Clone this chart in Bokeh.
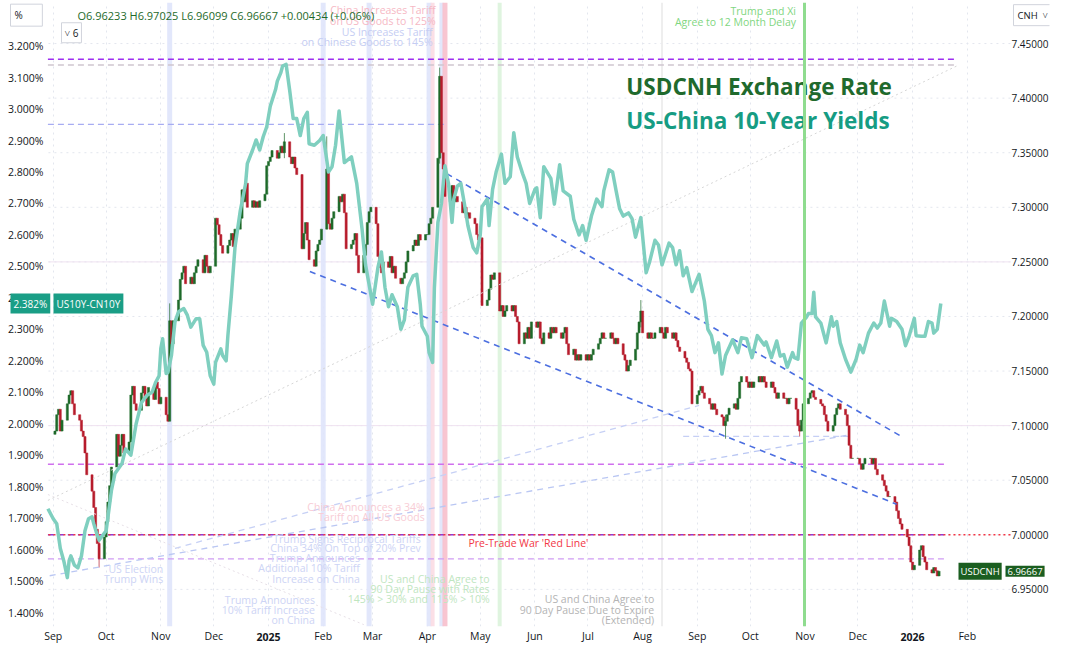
import pandas as pd
from bokeh.plotting import figure
from bokeh.models import (Range1d, LinearAxis, DatetimeAxis, FixedTicker, PrintfTickFormatter,
                          Span, Label, ColumnDataSource)
from bokeh.core.properties import value
from bokeh.embed import file_html
from bokeh.resources import INLINE

FONT = "Open Sans"
AXC = "#131722"

# ---------------- USDCNH daily closes (weekdays) ----------------
cnh_first_open = 7.092
cnh_2024_09 = [7.095, 7.110, 7.115, 7.095, 7.105, 7.120, 7.128, 7.132, 7.120, 7.110, 7.105,
               7.095, 7.090, 7.075, 7.055, 7.040, 7.025, 7.005, 6.992, 6.978, 6.998]
cnh_2024_10 = [7.012, 7.030, 7.045, 7.062, 7.092, 7.072, 7.082, 7.092, 7.075, 7.085, 7.128, 7.136,
               7.120, 7.114, 7.130, 7.136, 7.125, 7.118, 7.135, 7.124, 7.140, 7.134, 7.120]
cnh_2024_11 = [7.126, 7.110, 7.104, 7.196, 7.175, 7.196, 7.215, 7.234, 7.240, 7.246, 7.230,
               7.236, 7.230, 7.240, 7.246, 7.252, 7.240, 7.256, 7.246, 7.240, 7.246]
cnh_2024_12 = [7.290, 7.284, 7.275, 7.265, 7.258, 7.265, 7.270, 7.276, 7.264, 7.280, 7.290,
               7.316, 7.305, 7.322, 7.300, 7.306, 7.300, 7.305, 7.300, 7.306, 7.312, 7.338]
cnh_2025_01 = [7.342, 7.346, 7.352, 7.345, 7.350, 7.356, 7.350, 7.360, 7.346, 7.340, 7.346, 7.336,
               7.330, 7.262, 7.276, 7.286, 7.270, 7.252, 7.246, 7.260, 7.266, 7.270, 7.280]
cnh_2025_02 = [7.335, 7.285, 7.280, 7.290, 7.296, 7.310, 7.305, 7.312, 7.295, 7.262,
               7.266, 7.270, 7.276, 7.256, 7.240, 7.256, 7.266, 7.286, 7.296, 7.300]
cnh_2025_03 = [7.285, 7.255, 7.245, 7.240, 7.250, 7.245, 7.255, 7.240, 7.246, 7.235, 7.230,
               7.235, 7.240, 7.250, 7.260, 7.265, 7.270, 7.265, 7.275, 7.270, 7.275]
cnh_2025_04 = [7.275, 7.285, 7.290, 7.300, 7.345, 7.420, 7.350, 7.335, 7.310, 7.305, 7.320,
               7.305, 7.310, 7.305, 7.295, 7.300, 7.290, 7.295, 7.290, 7.285, 7.275, 7.270]
cnh_2025_05 = [7.272, 7.210, 7.215, 7.225, 7.238, 7.234, 7.240, 7.205, 7.210, 7.200, 7.205,
               7.210, 7.205, 7.210, 7.200, 7.195, 7.175, 7.185, 7.180, 7.190, 7.180, 7.195]
cnh_2025_06 = [7.190, 7.195, 7.180, 7.175, 7.185, 7.180, 7.190, 7.185, 7.190, 7.185, 7.180,
               7.185, 7.190, 7.175, 7.165, 7.170, 7.160, 7.165, 7.160, 7.165, 7.160]
cnh_2025_07 = [7.165, 7.160, 7.165, 7.170, 7.175, 7.180, 7.185, 7.180, 7.180, 7.185, 7.180, 7.175,
               7.180, 7.175, 7.165, 7.160, 7.150, 7.155, 7.160, 7.170, 7.185, 7.195, 7.205]
cnh_2025_08 = [7.185, 7.180, 7.185, 7.180, 7.180, 7.185, 7.190, 7.185, 7.180, 7.190, 7.185,
               7.180, 7.185, 7.178, 7.172, 7.168, 7.162, 7.158, 7.152, 7.150, 7.120]
cnh_2025_09 = [7.128, 7.132, 7.136, 7.130, 7.125, 7.120, 7.115, 7.120, 7.115, 7.110, 7.108,
               7.100, 7.104, 7.110, 7.116, 7.120, 7.115, 7.125, 7.140, 7.145, 7.140, 7.135]
cnh_2025_10 = [7.140, 7.135, 7.140, 7.145, 7.140, 7.145, 7.140, 7.135, 7.140, 7.135, 7.130, 7.125,
               7.130, 7.125, 7.125, 7.120, 7.125, 7.125, 7.115, 7.100, 7.095, 7.105, 7.120]
cnh_2025_11 = [7.125, 7.130, 7.132, 7.126, 7.124, 7.120, 7.118, 7.110, 7.104, 7.095,
               7.100, 7.110, 7.116, 7.120, 7.115, 7.110, 7.100, 7.082, 7.070, 7.070]
cnh_2025_12 = [7.070, 7.065, 7.060, 7.065, 7.070, 7.070, 7.065, 7.070, 7.060, 7.055, 7.050, 7.045,
               7.040, 7.035, 7.035, 7.030, 7.022, 7.015, 7.010, 7.005, 6.998, 6.990, 6.975]
cnh_2026_01 = [6.968, 6.972, 6.986, 6.990, 6.980, 6.975, 6.968, 6.965, 6.970, 6.967, 6.96233, 6.96667]
cnh_last_high = 6.97025
cnh_last_low = 6.96099

# notable wicks (low, high)
wick_dates = ["2024-09-27", "2024-11-06", "2025-01-10", "2025-02-03", "2025-04-08",
              "2025-07-31", "2025-09-17", "2025-10-29"]
wick_lo = [6.970, 7.105, 7.345, 7.280, 7.340, 7.190, 7.088, 7.090]
wick_hi = [6.995, 7.212, 7.368, 7.365, 7.428, 7.215, 7.110, 7.105]

# ---------------- US10Y-CN10Y spread (%) ----------------
spread_dates = [
    "2024-08-29", "2024-09-01", "2024-09-03", "2024-09-05", "2024-09-07", "2024-09-09", "2024-09-10",
    "2024-09-11", "2024-09-13", "2024-09-15", "2024-09-17", "2024-09-19", "2024-09-21", "2024-09-23",
    "2024-09-24", "2024-09-26", "2024-09-27", "2024-10-01", "2024-10-04", "2024-10-06", "2024-10-10",
    "2024-10-12", "2024-10-15", "2024-10-18", "2024-10-21", "2024-10-24", "2024-10-27", "2024-10-29",
    "2024-10-31", "2024-11-01", "2024-11-02", "2024-11-04", "2024-11-05", "2024-11-07", "2024-11-09",
    "2024-11-11", "2024-11-14", "2024-11-16", "2024-11-18", "2024-11-21", "2024-11-23", "2024-11-25",
    "2024-11-27", "2024-11-29", "2024-12-01", "2024-12-02", "2024-12-05", "2024-12-06", "2024-12-08",
    "2024-12-09", "2024-12-11", "2024-12-13", "2024-12-16", "2024-12-19", "2024-12-20", "2024-12-23",
    "2024-12-25", "2024-12-27", "2024-12-29", "2024-12-31", "2025-01-02", "2025-01-05", "2025-01-06",
    "2025-01-08", "2025-01-09", "2025-01-11", "2025-01-13", "2025-01-15", "2025-01-17", "2025-01-19",
    "2025-01-21", "2025-01-23", "2025-01-24", "2025-01-27", "2025-01-30", "2025-02-01", "2025-02-04",
    "2025-02-06", "2025-02-08", "2025-02-10", "2025-02-13", "2025-02-17", "2025-02-20", "2025-02-23",
    "2025-02-25", "2025-02-27", "2025-03-01", "2025-03-04", "2025-03-06", "2025-03-08", "2025-03-10",
    "2025-03-12", "2025-03-15", "2025-03-17", "2025-03-19", "2025-03-21", "2025-03-24", "2025-03-26",
    "2025-03-28", "2025-03-29", "2025-04-01", "2025-04-02", "2025-04-04", "2025-04-05", "2025-04-07",
    "2025-04-09", "2025-04-11", "2025-04-13", "2025-04-15", "2025-04-16", "2025-04-18", "2025-04-20",
    "2025-04-22", "2025-04-24", "2025-04-27", "2025-04-29", "2025-05-01", "2025-05-02", "2025-05-05",
    "2025-05-06", "2025-05-08", "2025-05-10", "2025-05-13", "2025-05-15", "2025-05-18", "2025-05-20",
    "2025-05-22", "2025-05-25", "2025-05-27", "2025-05-29", "2025-06-01", "2025-06-02", "2025-06-04",
    "2025-06-06", "2025-06-10", "2025-06-12", "2025-06-15", "2025-06-17", "2025-06-21", "2025-06-23",
    "2025-06-26", "2025-06-28", "2025-06-30", "2025-07-03", "2025-07-06", "2025-07-09", "2025-07-10",
    "2025-07-13", "2025-07-15", "2025-07-17", "2025-07-19", "2025-07-21", "2025-07-24", "2025-07-26",
    "2025-07-28", "2025-07-31", "2025-08-03", "2025-08-05", "2025-08-08", "2025-08-10", "2025-08-12",
    "2025-08-16", "2025-08-18", "2025-08-20", "2025-08-22", "2025-08-24", "2025-08-26", "2025-08-29",
    "2025-09-02", "2025-09-05", "2025-09-07", "2025-09-09", "2025-09-11", "2025-09-13", "2025-09-15",
    "2025-09-17", "2025-09-21", "2025-09-24", "2025-09-26", "2025-09-29", "2025-10-02", "2025-10-05",
    "2025-10-09", "2025-10-10", "2025-10-13", "2025-10-16", "2025-10-18", "2025-10-20", "2025-10-22",
    "2025-10-25", "2025-10-26", "2025-10-28", "2025-10-30", "2025-11-02", "2025-11-03", "2025-11-05",
    "2025-11-06", "2025-11-07", "2025-11-10", "2025-11-13", "2025-11-16", "2025-11-17", "2025-11-19",
    "2025-11-21", "2025-11-24", "2025-11-27", "2025-11-30", "2025-12-02", "2025-12-04", "2025-12-07",
    "2025-12-10", "2025-12-12", "2025-12-14", "2025-12-16", "2025-12-19", "2025-12-20", "2025-12-23",
    "2025-12-26", "2025-12-28", "2025-12-30", "2026-01-02", "2026-01-03", "2026-01-06", "2026-01-08",
    "2026-01-10", "2026-01-12", "2026-01-13", "2026-01-15", "2026-01-17"]
spread_vals = [
    1.730, 1.698, 1.682, 1.604, 1.564, 1.511, 1.564, 1.580, 1.551, 1.542, 1.580, 1.660, 1.698, 1.704,
    1.682, 1.645, 1.630, 1.660, 1.788, 1.842, 1.874, 1.920, 1.900, 2.000, 2.067, 2.090, 2.100, 2.131,
    2.152, 2.240, 2.270, 2.160, 2.163, 2.217, 2.324, 2.356, 2.366, 2.345, 2.307, 2.334, 2.334, 2.249,
    2.227, 2.152, 2.126, 2.195, 2.238, 2.217, 2.200, 2.281, 2.410, 2.560, 2.677, 2.762, 2.827, 2.870,
    2.902, 2.870, 2.912, 2.944, 3.009, 3.062, 3.089, 3.116, 3.137, 3.142, 3.060, 2.970, 2.970, 2.916,
    2.970, 2.990, 2.890, 2.885, 2.900, 2.916, 2.800, 2.817, 2.885, 2.994, 2.830, 2.848, 2.764, 2.620,
    2.505, 2.443, 2.380, 2.496, 2.546, 2.434, 2.372, 2.410, 2.372, 2.300, 2.330, 2.434, 2.470, 2.475,
    2.380, 2.310, 2.278, 2.226, 2.195, 2.430, 2.640, 2.700, 2.820, 2.764, 2.640, 2.714, 2.755, 2.764,
    2.700, 2.630, 2.560, 2.543, 2.600, 2.690, 2.714, 2.630, 2.745, 2.800, 2.857, 2.764, 2.785, 2.925,
    2.848, 2.795, 2.764, 2.700, 2.745, 2.750, 2.655, 2.817, 2.780, 2.698, 2.823, 2.740, 2.723, 2.650,
    2.600, 2.630, 2.583, 2.660, 2.714, 2.690, 2.740, 2.807, 2.800, 2.740, 2.683, 2.660, 2.670, 2.652,
    2.593, 2.655, 2.480, 2.515, 2.583, 2.568, 2.505, 2.574, 2.560, 2.505, 2.550, 2.470, 2.496, 2.420,
    2.475, 2.390, 2.300, 2.280, 2.226, 2.257, 2.158, 2.217, 2.267, 2.226, 2.273, 2.270, 2.210, 2.280,
    2.250, 2.260, 2.210, 2.263, 2.215, 2.220, 2.180, 2.226, 2.210, 2.205, 2.320, 2.340, 2.350, 2.350,
    2.418, 2.340, 2.320, 2.257, 2.340, 2.310, 2.325, 2.257, 2.205, 2.164, 2.205, 2.250, 2.226, 2.288,
    2.320, 2.304, 2.320, 2.390, 2.310, 2.335, 2.325, 2.300, 2.248, 2.278, 2.335, 2.280, 2.278, 2.278,
    2.325, 2.320, 2.288, 2.300, 2.382]

# ---------------- axes ----------------
month_ticks = ["2024-09-01", "2024-10-01", "2024-11-01", "2024-12-01", "2025-01-01", "2025-02-01",
               "2025-03-01", "2025-04-01", "2025-05-01", "2025-06-01", "2025-07-01", "2025-08-01",
               "2025-09-01", "2025-10-01", "2025-11-01", "2025-12-01", "2026-01-01", "2026-02-01"]
month_labels = ["Sep", "Oct", "Nov", "Dec", "2025", "Feb", "Mar", "Apr", "May", "Jun", "Jul", "Aug",
                "Sep", "Oct", "Nov", "Dec", "2026", "Feb"]
pct_ticks = [1.4, 1.5, 1.6, 1.7, 1.8, 1.9, 2.0, 2.1, 2.2, 2.3, 2.4, 2.5, 2.6, 2.7, 2.8, 2.9, 3.0, 3.1, 3.2]
cnh_ticks = [6.95, 7.00, 7.05, 7.10, 7.15, 7.20, 7.25, 7.30, 7.35, 7.40, 7.45]

# ---------------- drawings on the chart ----------------
events = [("2024-11-06", "#dfe4fb", 5), ("2025-02-01", "#dfe4fb", 5), ("2025-02-27", "#dfe4fb", 5),
          ("2025-04-02", "#dfe4fb", 5), ("2025-04-04", "#fbdbe3", 4), ("2025-04-09", "#dfe4fb", 4),
          ("2025-04-11", "#f7bfcc", 5), ("2025-05-12", "#dcf3dc", 4), ("2025-08-12", "#ececec", 2)]
deal_date = "2025-10-31 18:00"

hlines = [(7.4357, "2024-08-29", "2026-01-26", "#9d2ff0", 1.5),
          (7.4303, "2024-08-29", "2026-01-26", "#cfc6cf", 1.5),
          (7.3759, "2024-08-29", "2025-04-12", "#a7acf2", 1.3),
          (7.0647, "2024-08-29", "2026-01-20", "#d070ee", 1.5),
          (7.0000, "2024-08-29", "2026-01-20", "#8e3ad6", 1.5),
          (6.9780, "2024-08-29", "2026-01-20", "#cf9cf4", 1.3),
          (7.0902, "2025-08-24", "2025-11-27", "#c5cff5", 1.3)]

diag = [("2025-01-24 11:00", 7.2412, "2025-12-23", 7.0280, "#4c6fe0", "6 5", 1.6),
        ("2025-04-12", 7.3308, "2025-12-27", 7.0889, "#4c6fe0", "6 5", 1.6),
        ("2024-08-30", 6.9625, "2025-11-26 12:00", 7.0916, "#bac7f3", "6 5", 1.3),
        ("2024-11-09", 6.9876, "2025-09-02", 7.1185, "#c6d0f5", "6 5", 1.3),
        ("2024-08-29", 7.0315, "2026-01-26", 7.4294, "#d6d6d6", "2 3", 1.0),
        ("2024-08-29", 7.0369, "2025-02-24", 6.9177, "#e6dfe6", "2 3", 1.0)]

notes = [("China Increases Tariff", "2025-04-05 17:00", 7.4805, "#f6b8c4"),
         ("on US Goods to 125%", "2025-04-05 17:00", 7.4706, "#f6b8c4"),
         ("US Increases Tariff", "2025-04-04", 7.4608, "#c5cdf3"),
         ("on Chinese Goods to 145%", "2025-04-04", 7.4513, "#c5cdf3"),
         ("Trump and Xi", "2025-10-26 22:00", 7.4796, "#7fd67f"),
         ("Agree to 12 Month Delay", "2025-10-26 22:00", 7.4697, "#7fd67f"),
         ("China Announces a 34%", "2025-03-30 12:00", 7.0253, "#f8ccd5"),
         ("Tariff on All US Goods", "2025-03-30 12:00", 7.0159, "#f8ccd5"),
         ("Trump Signs Reciprocal Tariffs", "2025-03-28 07:00", 6.9966, "#cdd4f5"),
         ("China 34% On Top of 20% Prev", "2025-03-28 07:00", 6.9876, "#cdd4f5"),
         ("Trump Announces", "2025-02-21 19:00", 6.9787, "#cdd4f5"),
         ("Additional 10% Tariff", "2025-02-21 19:00", 6.9692, "#cdd4f5"),
         ("Increase on China", "2025-02-21 19:00", 6.9599, "#cdd4f5"),
         ("US Election", "2024-11-02 07:00", 6.9688, "#cdd4f5"),
         ("Trump Wins", "2024-11-02 07:00", 6.9594, "#cdd4f5"),
         ("Trump Announces", "2025-01-27 07:00", 6.9405, "#cdd4f5"),
         ("10% Tariff Increase", "2025-01-27 07:00", 6.9314, "#cdd4f5"),
         ("on China", "2025-01-27 07:00", 6.9222, "#cdd4f5"),
         ("US and China Agree to", "2025-05-06 07:00", 6.9599, "#bfe6bf"),
         ("90 Day Pause with Rates", "2025-05-06 07:00", 6.9505, "#bfe6bf"),
         ("145% > 30% and 115% > 10%", "2025-05-06 07:00", 6.9410, "#bfe6bf"),
         ("US and China Agree to", "2025-08-07 14:00", 6.9410, "#b4b4b4"),
         ("90 Day Pause Due to Expire", "2025-08-07 14:00", 6.9314, "#b4b4b4"),
         ("(Extended)", "2025-08-07 14:00", 6.9222, "#b4b4b4"),
         ("Pre-Trade War 'Red Line'", "2025-07-01 07:00", 6.9921, "#f23645")]


def ms(s):
    return pd.Timestamp(s).value / 1e6


# ---------------- build candles ----------------
months = [("2024-09", cnh_2024_09), ("2024-10", cnh_2024_10), ("2024-11", cnh_2024_11),
          ("2024-12", cnh_2024_12), ("2025-01", cnh_2025_01), ("2025-02", cnh_2025_02),
          ("2025-03", cnh_2025_03), ("2025-04", cnh_2025_04), ("2025-05", cnh_2025_05),
          ("2025-06", cnh_2025_06), ("2025-07", cnh_2025_07), ("2025-08", cnh_2025_08),
          ("2025-09", cnh_2025_09), ("2025-10", cnh_2025_10), ("2025-11", cnh_2025_11),
          ("2025-12", cnh_2025_12), ("2026-01", cnh_2026_01)]
dates, closes = [], []
for ym, vals in months:
    start = pd.Timestamp(ym + "-01")
    days = pd.bdate_range(start, start + pd.offsets.MonthEnd(0))
    n = min(len(days), len(vals))
    dates += list(days[:n])
    closes += vals[:n]
opens = [cnh_first_open] + closes[:-1]
UP, DN = "#1e6a2a", "#b71c2c"
cols = [UP if c >= o else DN for o, c in zip(opens, closes)]
csrc = ColumnDataSource(dict(x=pd.DatetimeIndex(dates).values,
                             top=[max(o, c) for o, c in zip(opens, closes)],
                             bottom=[min(o, c) for o, c in zip(opens, closes)],
                             color=cols))
dir_by_date = {pd.Timestamp(d).normalize(): col for d, col in zip(dates, cols)}

# ---------------- figure ----------------
# the frame spans the full canvas width; the price scales are drawn inside it
X0, X1 = ms("2024-08-02 03:07"), ms("2026-03-19 14:10")
XL, XR = "2024-08-29 07:00", "2026-02-25 12:00"    # chart pane edges
PCT = (1.3556, 3.3388)
CNH = (6.9160, 7.4876)

p = figure(width=1051, height=645, x_axis_type="datetime", x_range=Range1d(X0, X1),
           y_range=Range1d(*PCT), toolbar_location=None, output_backend="svg",
           min_border_left=0, min_border_right=0, min_border_top=2, min_border_bottom=15,
           background_fill_color="white", border_fill_color="white", outline_line_color=None)
p.extra_y_ranges = {"cnh": Range1d(*CNH)}

ly = p.yaxis[0]
ly.ticker = FixedTicker(ticks=pct_ticks)
ly.formatter = PrintfTickFormatter(format="%.3f%%")
ry = LinearAxis(y_range_name="cnh", ticker=FixedTicker(ticks=cnh_ticks),
                formatter=PrintfTickFormatter(format="%.5f"))
p.add_layout(ry, "right")
xa = p.xaxis[0]
tick_ms = [ms(t) for t in month_ticks]
xa.ticker = FixedTicker(ticks=tick_ms)
xa.major_label_overrides = {t: ("" if lab.isdigit() else lab) for t, lab in zip(tick_ms, month_labels)}
year_ms = [t for t, lab in zip(tick_ms, month_labels) if lab.isdigit()]
xy = DatetimeAxis(ticker=FixedTicker(ticks=year_ms))
xy.major_label_overrides = {t: lab for t, lab in zip(tick_ms, month_labels) if lab.isdigit()}
p.add_layout(xy, "below")

for ax in (ly, ry, xa, xy):
    ax.axis_line_color = None
    ax.major_tick_line_color = None
    ax.minor_tick_line_color = None
    ax.major_tick_out = 0
    ax.major_tick_in = 0
    ax.minor_tick_out = 0
    ax.minor_tick_in = 0
    ax.major_label_text_font = FONT
    ax.major_label_text_font_size = "10.5px"
    ax.major_label_text_color = AXC
ry.major_label_text_font_size = "10px"
xy.major_label_text_font_style = "bold"
ly.major_label_standoff = -43
ry.major_label_standoff = -38
xa.major_label_standoff = 2
xy.major_label_standoff = -13

p.xgrid[0].ticker = FixedTicker(ticks=tick_ms)
p.xgrid[0].grid_line_color = "#e3e6ee"
p.xgrid[0].grid_line_dash = "dotted"
p.ygrid[0].visible = False

# horizontal grid limited to the chart pane
n = len(cnh_ticks)
p.segment(x0=[pd.Timestamp(XL)] * n, y0=cnh_ticks, x1=[pd.Timestamp(XR)] * n, y1=cnh_ticks,
          line_color="#e3e6ee", line_dash="dotted", line_width=1, y_range_name="cnh", level="underlay")
p.segment(x0=[pd.Timestamp(XL)] * 2, y0=[7.25, 7.10], x1=[pd.Timestamp(XR)] * 2, y1=[7.25, 7.10],
          line_color="#efe2f0", line_width=1, y_range_name="cnh", level="underlay")

for d, c, w in events:
    p.add_layout(Span(location=ms(d), dimension="height", line_color=c, line_width=w,
                      line_alpha=0.9, level="underlay"))

for yv, x0, x1, c, w in hlines:
    p.segment(x0=[pd.Timestamp(x0)], y0=[yv], x1=[pd.Timestamp(x1)], y1=[yv], line_color=c,
              line_width=w, line_dash="6 4", y_range_name="cnh")
p.segment(x0=[pd.Timestamp(XL)], y0=[7.0], x1=[pd.Timestamp(XR)], y1=[7.0], line_color="#f23645",
          line_width=1.5, line_dash="2 3", y_range_name="cnh")

p.vbar(x="x", width=1.2 * 86400000, top="top", bottom="bottom", fill_color="color",
       line_color="color", line_width=0.5, source=csrc, y_range_name="cnh")
wcol = [dir_by_date.get(pd.Timestamp(d), UP) for d in wick_dates]
p.segment(x0=pd.DatetimeIndex(wick_dates).values, y0=wick_lo, x1=pd.DatetimeIndex(wick_dates).values,
          y1=wick_hi, line_color=wcol, line_width=1, line_alpha=0.7, y_range_name="cnh")

for x0, y0, x1, y1, c, dash, w in diag:
    p.segment(x0=[pd.Timestamp(x0)], y0=[y0], x1=[pd.Timestamp(x1)], y1=[y1], line_color=c,
              line_width=w, line_dash=dash, y_range_name="cnh")

p.line(x=pd.DatetimeIndex(spread_dates).values, y=spread_vals, line_color="#7fcfbf",
       line_width=3.5, line_join="round")

p.add_layout(Span(location=ms(deal_date), dimension="height", line_color="#8fdc8f", line_width=3))

nsrc = ColumnDataSource(dict(x=pd.DatetimeIndex([n[1] for n in notes]).values,
                             y=[n[2] for n in notes], text=[n[0] for n in notes],
                             color=[n[3] for n in notes]))
p.text(x="x", y="y", text="text", text_color="color", source=nsrc, text_align="right",
       text_baseline="middle", text_font=value(FONT), text_font_size="10.5px", y_range_name="cnh")

p.text(x=[pd.Timestamp("2025-07-22 19:00")], y=[7.4110], text=["USDCNH Exchange Rate"],
       text_color="#1f6a2d", text_font=value(FONT), text_font_size="22.5px", text_font_style="bold",
       text_baseline="middle", text_align="left", y_range_name="cnh")
p.text(x=[pd.Timestamp("2025-07-22 19:00")], y=[7.3797], text=["US-China 10-Year Yields"],
       text_color="#169c83", text_font=value(FONT), text_font_size="22.5px", text_font_style="bold",
       text_baseline="middle", text_align="left", y_range_name="cnh")


def lab(x, y, text, rng=None, **kw):
    base = dict(x=x, y=y, x_units="screen", text=text, text_font=FONT, text_baseline="middle")
    if rng:
        base["y_range_name"] = rng
    base.update(kw)
    p.add_layout(Label(**base))


o_last, c_last = opens[-1], closes[-1]
chg = c_last - o_last
hdr = (f"O{o_last:.5f} H{cnh_last_high:.5f} L{cnh_last_low:.5f} C{c_last:.5f} "
       f"{chg:+.5f} ({chg / o_last * 100:+.2f}%)")
lab(77, 7.476, hdr, "cnh", text_font_size="11px", text_color="#1e6a2a")

# last-value boxes on the scales
lab(10, spread_vals[-1], f"{spread_vals[-1]:.3f}%", text_font_size="10px", text_color="white",
    background_fill_color="#1a9e86", padding=3)
lab(53, spread_vals[-1], "US10Y-CN10Y", text_font_size="10px", text_color="white",
    background_fill_color="#1a9e86", padding=3)
lab(958, closes[-1], "USDCNH", "cnh", text_font_size="9.5px", text_color="white",
    background_fill_color="#1b5e20", padding=2)
lab(1005, closes[-1], f"{closes[-1]:.5f}", "cnh", text_font_size="9.5px", text_color="white",
    background_fill_color="#1b5e20", padding=2)

# chart chrome
lab(10, 7.476, "%\u00a0\u00a0\u00a0\u00a0\u00a0\u00a0", "cnh", text_font_size="10px", text_color=AXC,
    border_line_color="#d1d4dc", background_fill_color="white", padding=4)
lab(61, 7.4599, "\u02c5 6", "cnh", text_font_size="10px", text_color=AXC,
    border_line_color="#d1d4dc", background_fill_color="white", padding=3)
lab(1013, 7.476, "CNH\u00a0\u00a0\u02c5", "cnh", text_font_size="9.5px", text_color=AXC,
    border_line_color="#d1d4dc", background_fill_color="white", padding=4)

open("out.html", "w").write(file_html(p, INLINE))
